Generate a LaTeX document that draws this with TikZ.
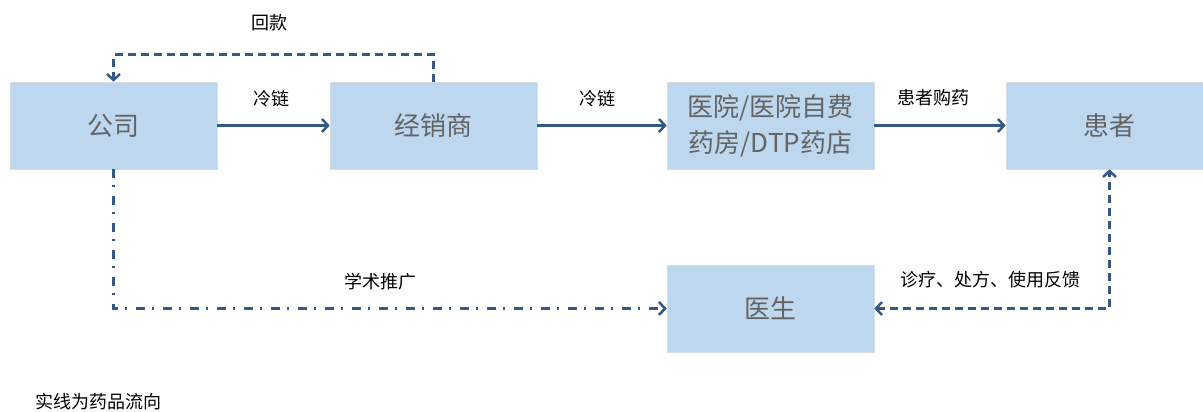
\documentclass[tikz,border=0pt]{standalone}
\usepackage{fontspec}
\setmainfont{Noto Sans CJK SC}
\usetikzlibrary{arrows.meta}
\definecolor{boxblue}{RGB}{189,215,238}
\definecolor{boxedge}{RGB}{214,222,232}
\definecolor{linkblue}{RGB}{52,88,132}
\definecolor{boxtext}{RGB}{100,100,100}

\begin{document}
\begin{tikzpicture}[x=1pt,y=-1pt,
  >={Straight Barb[length=6pt,width=13pt]},
  block/.style={draw=boxedge,line width=0.6pt,fill=boxblue,minimum width=207pt,
    minimum height=87pt,text=boxtext,align=center,font=\fontsize{26}{36}\selectfont},
  tag/.style={font=\fontsize{18}{22}\selectfont},
  flow/.style={->,draw=linkblue,line width=2.5pt},
  back/.style={flow,dash pattern=on 8pt off 5pt},
  promo/.style={flow,dash pattern=on 9pt off 7pt on 2pt off 9pt}]
\clip (0,0) rectangle (1203,412);
% boxes
\node[block] (gs) at (113.5,125.5) {公司};
\node[block] (jxs) at (433.5,125.5) {经销商};
\node[block] (yy) at (770.5,125.5) {医院/医院自费\\药房/DTP药店};
\node[block] (hz) at (1109.5,125.5) {患者};
\node[block] (ys) at (770.5,308.5) {医生};
% drug flow
\draw[flow] (gs) -- (jxs);
\draw[flow] (jxs) -- (yy);
\draw[flow] (yy) -- (hz);
% money, promotion, feedback
\draw[back] (jxs.north) -- ++(0,-27) -| (gs.north);
\draw[promo] (gs.south) |- (ys.west);
\draw[back,<->] (ys.east) -| (hz.south);
% labels
\node[tag] (hk) at (269,23) {回款};
\node[tag] (ll1) at (271,99) {冷链};
\node[tag] (ll2) at (597,99) {冷链};
\node[tag] (gy) at (933,98) {患者购药};
\node[tag] (xs) at (380,282) {学术推广};
\node[tag] (zl) at (990,280) {诊疗、处方、使用反馈};
\node[tag] (sx) at (98,402) {实线为药品流向};
\end{tikzpicture}
\end{document}
